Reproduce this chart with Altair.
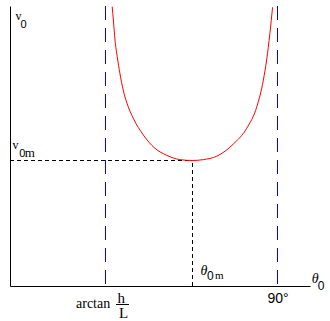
import altair as alt
import pandas as pd

# curve: launch angle (deg) vs launch speed (arb. units)
theta = [34.4, 34.8, 35.35, 36.1, 37.0, 38.1, 39.8, 41.5, 44.9, 48.8, 52.8, 57.2,
         61.44, 65.1, 69.6, 75.2, 79.7, 83.1, 85.3, 86.4, 87.5, 88.4]
v0 = [22.17, 21.11, 19.52, 18.2, 16.88, 15.56, 14.23, 13.31, 11.98, 10.93, 10.37, 10.03,
      9.96, 10.03, 10.3, 11.27, 12.52, 14.23, 16.35, 17.94, 20.06, 22.12]

theta_min = 61.44     # θ0m
v_min = 9.96          # v0m
theta_low = 32.15     # arctan h/L
theta_high = 90.06    # 90°

XMAX = 101.0
YMAX = 22.222

xs = alt.Scale(domain=[0, XMAX], nice=False, zero=False)
ys = alt.Scale(domain=[0, YMAX], nice=False, zero=False)

curve_df = pd.DataFrame({"t": theta, "v": v0})

base_axes = alt.Chart(pd.DataFrame({"t": [0, XMAX], "v": [0, 0]})).mark_point(opacity=0).encode(
    x=alt.X("t:Q", scale=xs, axis=alt.Axis(domain=True, ticks=False, labels=False, grid=False,
                                            title=None, domainColor="black", domainWidth=1)),
    y=alt.Y("v:Q", scale=ys, axis=alt.Axis(domain=True, ticks=False, labels=False, grid=False,
                                            title=None, domainColor="black", domainWidth=1)),
)

curve = alt.Chart(curve_df).mark_line(color="#ff0000", strokeWidth=1, interpolate="monotone").encode(
    x=alt.X("t:Q", scale=xs), y=alt.Y("v:Q", scale=ys)
)

vlines = alt.Chart(pd.DataFrame({"t": [theta_low, theta_high]})).mark_rule(
    color="#0000ff", strokeWidth=1, strokeDash=[14, 8]
).encode(x=alt.X("t:Q", scale=xs))

hdash = alt.Chart(pd.DataFrame({"t0": [0.0], "t1": [theta_min], "v": [v_min]})).mark_rule(
    color="black", strokeWidth=1, strokeDash=[4, 3]
).encode(x=alt.X("t0:Q", scale=xs), x2="t1:Q", y=alt.Y("v:Q", scale=ys))

vdash = alt.Chart(pd.DataFrame({"t": [theta_min], "v0": [0.0], "v1": [v_min]})).mark_rule(
    color="black", strokeWidth=1, strokeDash=[4, 3]
).encode(x=alt.X("t:Q", scale=xs), y=alt.Y("v0:Q", scale=ys), y2="v1:Q")

# annotation anchors
serif_df = pd.DataFrame({
    "text": ["v", "v", "m", "arctan", "h", "L", "m"],
    "t": [1.85, 0.84, 4.95, 22.22, 36.19, 36.7, 69.0],
    "v": [21.15, 10.87, 10.24, -1.746, -1.31, -2.54, 0.556],
    "fs": [12, 12, 13, 14, 15, 15, 11],
})
italic_df = pd.DataFrame({
    "text": ["θ", "θ"],
    "t": [64.14, 101.57],
    "v": [0.873, 0.214],
    "fs": [14, 14],
})
sans_df = pd.DataFrame({
    "text": ["0", "0", "0", "0"],
    "t": [3.53, 3.13, 66.32, 103.6],
    "v": [20.44, 10.24, 0.437, -0.317],
    "fs": [11, 11, 12, 12],
})
deg_df = pd.DataFrame({"text": ["90°"], "t": [90.22], "v": [-1.349]})

def texts(df, **kw):
    enc = dict(x=alt.X("t:Q", scale=xs), y=alt.Y("v:Q", scale=ys), text="text:N")
    if "fs" in df.columns:
        enc["size"] = alt.Size("fs:Q", scale=None, legend=None)
    return alt.Chart(df).mark_text(color="black", **kw).encode(**enc)

serif_t = texts(serif_df, font="Liberation Serif", align="left", baseline="alphabetic")
italic_t = texts(italic_df, font="Liberation Serif", fontStyle="italic", align="left", baseline="alphabetic")
sans_t = texts(sans_df, font="Liberation Sans", align="left", baseline="alphabetic")
deg_t = texts(deg_df, font="Liberation Sans", fontSize=14, align="center", baseline="alphabetic")

bar = alt.Chart(pd.DataFrame({"t0": [35.69], "t1": [40.06], "v": [-1.468]})).mark_rule(
    color="black", strokeWidth=1
).encode(x=alt.X("t0:Q", scale=xs), x2="t1:Q", y=alt.Y("v:Q", scale=ys))

chart = alt.layer(
    base_axes, vlines, hdash, vdash, curve, serif_t, italic_t, sans_t, deg_t, bar
).properties(
    width=300, height=280,
    autosize=alt.AutoSizeParams(type="none"),
    padding={"left": 10, "top": 6, "right": 20, "bottom": 35},
    background="white",
).configure_view(stroke=None)

chart.save("out.html", embed_options={"renderer": "svg", "actions": False})
